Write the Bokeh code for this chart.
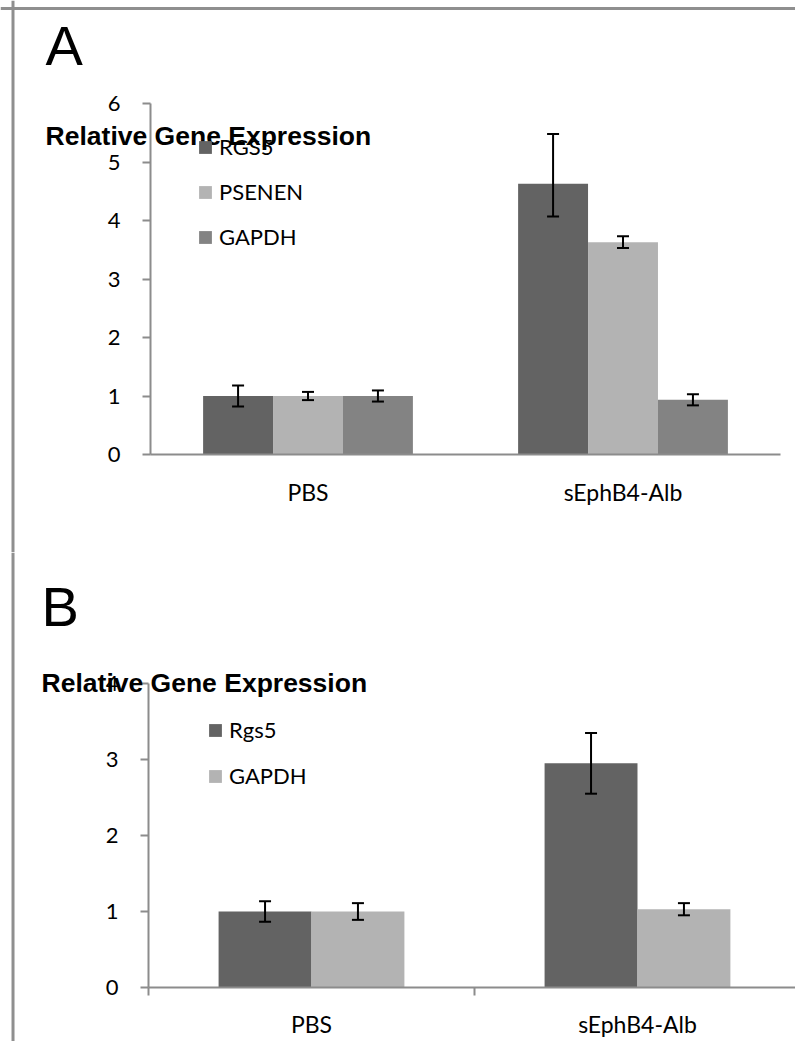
from bokeh.plotting import figure
from bokeh.models import (Range1d, LinearAxis, FixedTicker, Whisker, TeeHead,
                          ColumnDataSource, Legend, LegendItem, Label, Span)
from bokeh.layouts import column
from bokeh.embed import file_html
from bokeh.resources import INLINE

# ---------------- data ----------------
categories = ["PBS", "sEphB4-Alb"]

# Panel A
a_series = ["RGS5", "PSENEN", "GAPDH"]
a_rgs5 = [1.00, 4.63]
a_rgs5_err_minus = [0.18, 0.56]
a_rgs5_err_plus = [0.18, 0.85]
a_psenen = [1.00, 3.63]
a_psenen_err_minus = [0.07, 0.10]
a_psenen_err_plus = [0.07, 0.10]
a_gapdh = [1.00, 0.935]
a_gapdh_err_minus = [0.095, 0.095]
a_gapdh_err_plus = [0.095, 0.095]
a_yticks = [0, 1, 2, 3, 4, 5, 6]

# Panel B
b_series = ["Rgs5", "GAPDH"]
b_rgs5 = [1.00, 2.95]
b_rgs5_err_minus = [0.135, 0.40]
b_rgs5_err_plus = [0.135, 0.40]
b_gapdh = [1.00, 1.03]
b_gapdh_err_minus = [0.11, 0.08]
b_gapdh_err_plus = [0.11, 0.08]
b_yticks = [0, 1, 2, 3, 4]

y_title = "Relative Gene Expression"

# ---------------- style ----------------
DARK = "#636363"
LIGHT = "#b3b3b3"
MID = "#838383"
AXIS = "#8c8c8c"
FRAME = "#8f8f8f"
FONT = "Lato"
FS = "22px"
W = 795


def make_panel(height, xr, yr, ymax, yticks, names, vals, em, ep, colors,
               bar_w, offsets, boundary_ticks, xlabel_standoff, legend_loc,
               spacing, letter, letter_xy, title_xy, frame_left, frame_top=None):
    p = figure(width=W, height=height, x_range=Range1d(*xr), y_range=Range1d(*yr),
               output_backend="svg", toolbar_location=None,
               x_axis_type=None, y_axis_type=None,
               min_border_left=0, min_border_top=0,
               min_border_right=0, min_border_bottom=0)
    p.outline_line_color = None
    p.background_fill_color = "white"
    p.border_fill_color = "white"

    ncat = len(categories)
    yaxis = LinearAxis(ticker=FixedTicker(ticks=yticks, minor_ticks=[]),
                       fixed_location=0, bounds=(0, ymax),
                       axis_line_color=AXIS, axis_line_width=2,
                       major_tick_line_color=AXIS, major_tick_line_width=2,
                       major_tick_out=8, major_tick_in=0,
                       minor_tick_out=0, minor_tick_in=0,
                       major_label_text_font=FONT,
                       major_label_text_font_size=FS,
                       major_label_text_color="black",
                       major_label_standoff=22)
    p.add_layout(yaxis, "left")

    centers = [i + 0.5 for i in range(ncat)]
    xaxis = LinearAxis(ticker=FixedTicker(ticks=centers,
                                          minor_ticks=(list(range(ncat + 1))
                                                       if boundary_ticks else [])),
                       fixed_location=0, bounds=(0, ncat),
                       major_label_overrides={c: cat for c, cat in zip(centers, categories)},
                       axis_line_color=AXIS, axis_line_width=2,
                       major_tick_out=0, major_tick_in=0,
                       minor_tick_line_color=AXIS, minor_tick_line_width=2,
                       minor_tick_out=(8 if boundary_ticks else 0), minor_tick_in=0,
                       major_label_text_font=FONT,
                       major_label_text_font_size="23px",
                       major_label_text_color="black",
                       major_label_standoff=xlabel_standoff)
    p.add_layout(xaxis, "below")

    items = []
    for name, v, m, pl, col, off in zip(names, vals, em, ep, colors, offsets):
        xs = [c + off for c in centers]
        src = ColumnDataSource(dict(x=xs, top=v,
                                    lo=[a - b for a, b in zip(v, m)],
                                    hi=[a + b for a, b in zip(v, pl)]))
        r = p.vbar(x="x", top="top", bottom=0, width=bar_w, source=src,
                   fill_color=col, line_color=None)
        items.append(LegendItem(label=name, renderers=[r]))
        w = Whisker(source=src, base="x", lower="lo", upper="hi",
                    line_color="black", line_width=2, level="annotation",
                    upper_head=TeeHead(size=12, line_color="black", line_width=2),
                    lower_head=TeeHead(size=12, line_color="black", line_width=2))
        p.add_layout(w)

    legend = Legend(items=items, location=legend_loc, orientation="vertical",
                    glyph_width=16, glyph_height=16, label_height=16,
                    spacing=spacing, padding=0, margin=0, label_standoff=6,
                    border_line_color=None, background_fill_alpha=0,
                    label_text_font=FONT, label_text_font_size=FS,
                    label_text_color="black")
    p.add_layout(legend)

    p.add_layout(Label(x=title_xy[0], y=title_xy[1], text=y_title,
                       text_font="Liberation Sans", text_font_style="bold",
                       text_font_size="26.5px", text_color="black",
                       text_align="left", text_baseline="middle"))
    p.add_layout(Label(x=letter_xy[0], y=letter_xy[1], text=letter,
                       text_font="Liberation Sans", text_font_size="56px",
                       text_color="black", text_align="left",
                       text_baseline="middle"))

    # outer figure frame (left and top edges)
    p.add_layout(Span(location=frame_left, dimension="height",
                      line_color=FRAME, line_width=3))
    if frame_top is not None:
        p.add_layout(Span(location=frame_top, dimension="width",
                          line_color=FRAME, line_width=3))
    return p


# panel A: 315 px per category, 58.5 px per unit
pA = make_panel(552, (-0.4762, 2.0476), (-1.6752, 7.7607), 6, a_yticks, a_series,
                [a_rgs5, a_psenen, a_gapdh],
                [a_rgs5_err_minus, a_psenen_err_minus, a_gapdh_err_minus],
                [a_rgs5_err_plus, a_psenen_err_plus, a_gapdh_err_plus],
                [DARK, LIGHT, MID], 0.222, [-0.222, 0.0, 0.222], False, 23,
                (197, 302), 18, "A", (-0.333, 6.983), (-0.333, 5.44),
                -0.4365, 7.624)

# panel B: 326 px per category, 76 px per unit
pB = make_panel(489, (-0.454, 1.9847), (-0.7105, 5.7237), 4, b_yticks, b_series,
                [b_rgs5, b_gapdh],
                [b_rgs5_err_minus, b_gapdh_err_minus],
                [b_rgs5_err_plus, b_gapdh_err_plus],
                [DARK, LIGHT], 0.285, [-0.1425, 0.1425], True, 14,
                (207, 252), 19, "B", (-0.328, 5.013), (-0.328, 4.013),
                -0.4156)

layout = column(pA, pB, spacing=0)

open("out.html", "w").write(file_html(layout, INLINE))
